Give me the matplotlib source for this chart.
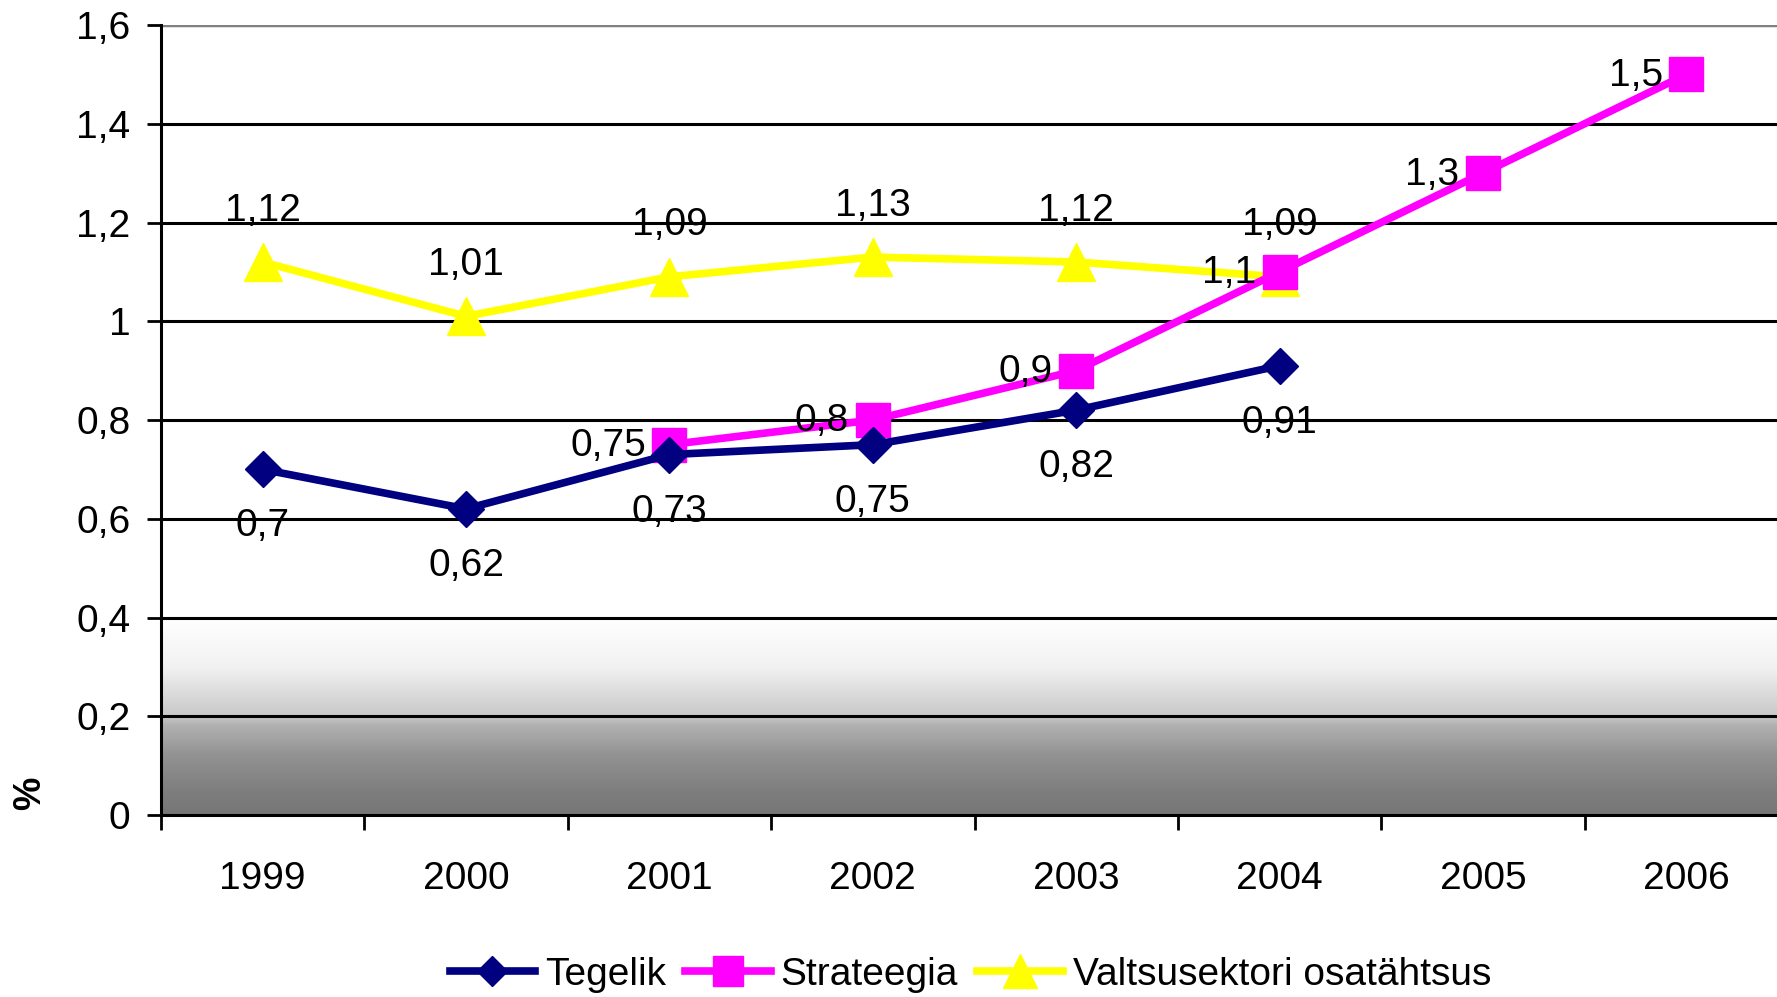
import numpy as np
import matplotlib
matplotlib.use("Agg")
import matplotlib.pyplot as plt
from matplotlib.colors import LinearSegmentedColormap

plt.rcParams['font.family'] = ['Liberation Sans', 'DejaVu Sans']

# andmed
aastad = ["1999", "2000", "2001", "2002", "2003", "2004", "2005", "2006"]
tegelik = [0.7, 0.62, 0.73, 0.75, 0.82, 0.91]
strateegia = [0.75, 0.8, 0.9, 1.1, 1.3, 1.5]
valitsus = [1.12, 1.01, 1.09, 1.13, 1.12, 1.09]
tegelik_sildid = ["0,7", "0,62", "0,73", "0,75", "0,82", "0,91"]
strateegia_sildid = ["0,75", "0,8", "0,9", "1,1", "1,3", "1,5"]
valitsus_sildid = ["1,12", "1,01", "1,09", "1,13", "1,12", "1,09"]
y_ticks = [0, 0.2, 0.4, 0.6, 0.8, 1.0, 1.2, 1.4, 1.6]
y_sildid = ["0", "0,2", "0,4", "0,6", "0,8", "1", "1,2", "1,4", "1,6"]

x_teg = list(range(0, 6))
x_str = list(range(2, 8))
x_val = list(range(0, 6))

fig = plt.figure(figsize=(17.77, 9.97), dpi=100)
ax = fig.add_axes([161/1777, 1 - 815/997, (1788 - 161)/1777, (815 - 25)/997])

ax.set_xlim(-0.5, 7.5)
ax.set_ylim(0, 1.6)

# hall üleminek taustal
cmap = LinearSegmentedColormap.from_list("hall", [
    (0.0, "#767676"), (0.12, "#7e7e7e"), (0.3, "#929292"), (0.45, "#b0b0b0"),
    (0.5, "#c8c8c8"), (0.62, "#dcdcdc"), (0.75, "#f2f2f2"), (1.0, "#ffffff")])
grad = np.linspace(0, 1, 256).reshape(-1, 1)
ax.imshow(grad, extent=[-0.5, 7.5, 0, 0.4], origin="lower", aspect="auto",
          cmap=cmap, zorder=0)

# ruudustik
for y in y_ticks[1:-1]:
    ax.axhline(y, color="black", lw=2.2, zorder=1)
ax.axhline(1.6, color="#808080", lw=2.5, zorder=1)

lw = 5.5
ax.plot(x_val, valitsus, color="#FFFF00", lw=lw, marker="^", markersize=28,
        label="Valtsusektori osatähtsus", zorder=3)
ax.plot(x_str, strateegia, color="#FF00FF", lw=lw, marker="s", markersize=25,
        label="Strateegia", zorder=4)
ax.plot(x_teg, tegelik, color="#000080", lw=lw, marker="D", markersize=18,
        label="Tegelik", zorder=5)

fs = 28
for x, y, s in zip(x_teg, tegelik, tegelik_sildid):
    ax.annotate(s, (x, y), xytext=(0, -41), textcoords="offset points",
                ha="center", va="center", fontsize=fs, zorder=6)
for x, y, s in zip(x_val, valitsus, valitsus_sildid):
    ax.annotate(s, (x, y), xytext=(0, 37), textcoords="offset points",
                ha="center", va="center", fontsize=fs, zorder=6)
for x, y, s in zip(x_str, strateegia, strateegia_sildid):
    ax.annotate(s, (x, y), xytext=(-17, -1), textcoords="offset points",
                ha="right", va="center", fontsize=fs, zorder=6)

# teljed
for side in ["top", "right"]:
    ax.spines[side].set_visible(False)
ax.spines["left"].set_linewidth(2.2)
ax.spines["bottom"].set_linewidth(2.2)
ax.spines["left"].set_zorder(2)
ax.spines["bottom"].set_zorder(2)

ax.set_yticks(y_ticks)
ax.set_yticklabels(y_sildid)
ax.tick_params(axis="y", direction="out", length=10, width=2, pad=12, labelsize=fs)

ax.set_xticks(np.arange(-0.5, 7.6, 1.0))
ax.set_xticklabels([])
ax.set_xticks(range(8), minor=True)
ax.set_xticklabels(aastad, minor=True)
ax.tick_params(axis="x", which="major", direction="out", length=11, width=2)
ax.tick_params(axis="x", which="minor", length=0, pad=33, labelsize=fs)

fig.text(30/1777, 1 - 793/997, "%", rotation=90, fontsize=27, fontweight="bold",
         ha="center", va="center")

handles, labels = ax.get_legend_handles_labels()
order = [2, 1, 0]
leg = fig.legend([handles[i] for i in order], [labels[i] for i in order],
                 loc="center", bbox_to_anchor=(0.546, 0.022), ncol=3, frameon=False,
                 fontsize=fs, handlelength=2.2, handletextpad=0.25, columnspacing=0.5,
                 markerscale=0.85)

fig.savefig("out.png", dpi=100)
